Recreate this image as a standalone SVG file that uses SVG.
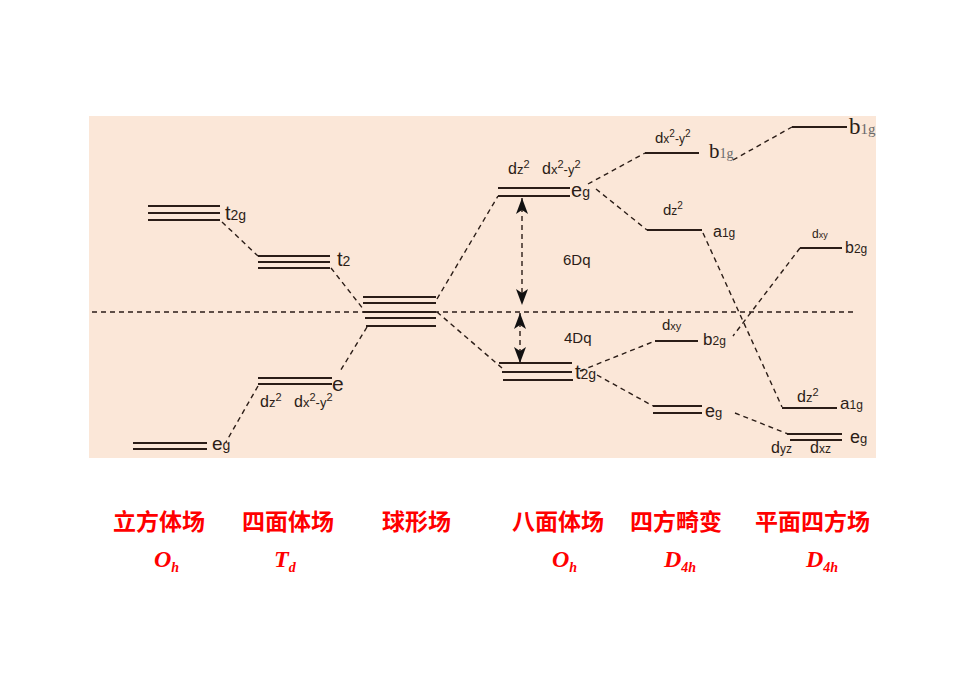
<svg xmlns="http://www.w3.org/2000/svg" width="980" height="692" viewBox="0 0 980 692">
<style>
.lv{stroke:#2b1d17;stroke-width:1.9;fill:none}
.dash{stroke:#2b1d17;stroke-width:1.4;fill:none;stroke-dasharray:5,4}
.t{font-family:"Liberation Sans",Arial,sans-serif;fill:#2b1d17}
.sr{font-family:"Liberation Serif","Times New Roman",serif;fill:#2b1d17}
.g{fill:#6a6a6a}
.cn{font-family:"Noto Sans CJK SC",sans-serif;font-weight:bold;font-size:23px;fill:#ff0000}
.it{font-family:"Liberation Serif","Times New Roman",serif;font-weight:bold;font-style:italic;fill:#ff0000}
</style>
<defs>
<marker id="ah" viewBox="0 0 16 12" refX="16" refY="6" markerWidth="16" markerHeight="12" markerUnits="userSpaceOnUse" orient="auto-start-reverse">
<path d="M0,0 L16,6 L0,12 L4,6 z" fill="#111"/>
</marker>
</defs>
<rect x="0" y="0" width="980" height="692" fill="#ffffff"/>
<rect x="89" y="116" width="787" height="342" fill="#fbe7d8"/>

<g id="connectors">
<line class="dash" x1="92" y1="312" x2="856" y2="312"/>
<path class="dash" d="M222,222 L258,256"/>
<path class="dash" d="M331,268 L364,310"/>
<path class="dash" d="M367,327 L339,373"/>
<path class="dash" d="M258,386 L226,442"/>
<path class="dash" d="M437,299 L498,196"/>
<path class="dash" d="M437,312 L502,368"/>
<path class="dash" d="M588,184 L645,153"/>
<path class="dash" d="M596,189 L647,230"/>
<path class="dash" d="M580,371 L655,341"/>
<path class="dash" d="M597,375 L653,406"/>
<path class="dash" d="M733,160 L792,127"/>
<path class="dash" d="M703,233 L782,407"/>
<path class="dash" d="M800,248 L733,336"/>
<path class="dash" d="M735,413 L788,434"/>
<line class="dash" x1="522" y1="198" x2="522" y2="305" stroke-dasharray="4,4" marker-start="url(#ah)" marker-end="url(#ah)"/>
<line class="dash" x1="520" y1="313" x2="520" y2="363" stroke-dasharray="4,4" marker-start="url(#ah)" marker-end="url(#ah)"/>
</g>

<g id="oh-cubic-t2g">
<path class="lv" d="M148,206H220M148,213H220M148,220H220"/>
<text class="t" x="225" y="220"><tspan font-size="20">t</tspan><tspan font-size="14">2g</tspan></text>
</g>
<g id="oh-cubic-eg">
<path class="lv" d="M133,443H207M133,449H207"/>
<text class="t" x="212" y="450"><tspan font-size="19">e</tspan><tspan font-size="14">g</tspan></text>
</g>
<g id="td-t2">
<path class="lv" d="M258,256H330M258,262H330M258,268H330"/>
<text class="t" x="337" y="266"><tspan font-size="20">t</tspan><tspan font-size="14">2</tspan></text>
</g>
<g id="td-e">
<path class="lv" d="M258,378H332M258,384H332"/>
<text class="t" x="332" y="391" font-size="21">e</text>
<text class="t" x="260" y="407"><tspan font-size="16">d</tspan><tspan font-size="13">z</tspan><tspan font-size="11" dy="-6">2</tspan></text>
<text class="t" x="294" y="407"><tspan font-size="16">d</tspan><tspan font-size="13">x</tspan><tspan font-size="11" dy="-6">2</tspan><tspan font-size="13" dy="6">-</tspan><tspan font-size="13">y</tspan><tspan font-size="11" dy="-6">2</tspan></text>
</g>
<g id="spherical">
<path class="lv" d="M363,297H436M363,303H436M363,312H436M365,318H436M366,326H436"/>
</g>
<g id="oh-eg">
<path class="lv" d="M498,188H570M498,196H570"/>
<text class="t" x="571" y="197"><tspan font-size="20">e</tspan><tspan font-size="14">g</tspan></text>
<text class="t" x="508" y="174"><tspan font-size="16">d</tspan><tspan font-size="13">z</tspan><tspan font-size="11" dy="-6">2</tspan></text>
<text class="t" x="542" y="174"><tspan font-size="16">d</tspan><tspan font-size="13">x</tspan><tspan font-size="11" dy="-6">2</tspan><tspan font-size="13" dy="6">-</tspan><tspan font-size="13">y</tspan><tspan font-size="11" dy="-6">2</tspan></text>
</g>
<g id="oh-split">
<text class="t" x="563" y="265" font-size="15">6Dq</text>
<text class="t" x="564" y="343" font-size="15">4Dq</text>
</g>
<g id="oh-t2g">
<path class="lv" d="M499,363H572M502,372H572M503,380H573"/>
<text class="t" x="575" y="379"><tspan font-size="20">t</tspan><tspan font-size="14">2g</tspan></text>
</g>
<g id="d4h-b1g">
<path class="lv" d="M645,153H699"/>
<text class="t" x="655" y="143"><tspan font-size="15">d</tspan><tspan font-size="12">x</tspan><tspan font-size="10" dy="-6">2</tspan><tspan font-size="12" dy="6">-</tspan><tspan font-size="12">y</tspan><tspan font-size="10" dy="-6">2</tspan></text>
<text class="sr" x="709" y="158"><tspan font-size="21">b</tspan><tspan font-size="14" class="g">1g</tspan></text>
</g>
<g id="d4h-a1g">
<path class="lv" d="M647,230H702"/>
<text class="t" x="663" y="215"><tspan font-size="15">d</tspan><tspan font-size="12">z</tspan><tspan font-size="10" dy="-6">2</tspan></text>
<text class="t" x="713" y="237"><tspan font-size="16">a</tspan><tspan font-size="12">1g</tspan></text>
</g>
<g id="d4h-b2g">
<path class="lv" d="M655,341H698"/>
<text class="t" x="662" y="330"><tspan font-size="15">d</tspan><tspan font-size="11">xy</tspan></text>
<text class="t" x="703" y="345"><tspan font-size="17">b</tspan><tspan font-size="12">2g</tspan></text>
</g>
<g id="d4h-eg">
<path class="lv" d="M653,406H702M653,413H702"/>
<text class="t" x="705" y="417"><tspan font-size="18">e</tspan><tspan font-size="13">g</tspan></text>
</g>
<g id="sq-b1g">
<path class="lv" d="M792,127H847"/>
<text class="sr" x="849" y="134"><tspan font-size="23">b</tspan><tspan font-size="15" class="g">1g</tspan></text>
</g>
<g id="sq-b2g">
<path class="lv" d="M800,248H842"/>
<text class="t" x="812" y="238"><tspan font-size="12">d</tspan><tspan font-size="9">xy</tspan></text>
<text class="t" x="845" y="253"><tspan font-size="16">b</tspan><tspan font-size="12">2g</tspan></text>
</g>
<g id="sq-a1g">
<path class="lv" d="M782,408H837"/>
<text class="t" x="797" y="402"><tspan font-size="16">d</tspan><tspan font-size="13">z</tspan><tspan font-size="11" dy="-6">2</tspan></text>
<text class="t" x="840" y="409"><tspan font-size="17">a</tspan><tspan font-size="12">1g</tspan></text>
</g>
<g id="sq-eg">
<path class="lv" d="M787,434H842M790,440H842"/>
<text class="t" x="850" y="443"><tspan font-size="18">e</tspan><tspan font-size="13">g</tspan></text>
<text class="t" x="771" y="453"><tspan font-size="16">d</tspan><tspan font-size="12">yz</tspan></text>
<text class="t" x="810" y="453"><tspan font-size="16">d</tspan><tspan font-size="12">xz</tspan></text>
</g>

<g id="captions">
<text class="cn" x="113" y="530">立方体场</text>
<text class="cn" x="242" y="530">四面体场</text>
<text class="cn" x="382" y="530">球形场</text>
<text class="cn" x="512" y="530">八面体场</text>
<text class="cn" x="630" y="530">四方畸变</text>
<text class="cn" x="755" y="530">平面四方场</text>
<text class="it" x="154" y="567"><tspan font-size="24">O</tspan><tspan font-size="14" dy="5">h</tspan></text>
<text class="it" x="274" y="567"><tspan font-size="24">T</tspan><tspan font-size="14" dy="5">d</tspan></text>
<text class="it" x="552" y="567"><tspan font-size="24">O</tspan><tspan font-size="14" dy="5">h</tspan></text>
<text class="it" x="664" y="567"><tspan font-size="24">D</tspan><tspan font-size="14" dy="5">4h</tspan></text>
<text class="it" x="806" y="567"><tspan font-size="24">D</tspan><tspan font-size="14" dy="5">4h</tspan></text>
</g>
</svg>
